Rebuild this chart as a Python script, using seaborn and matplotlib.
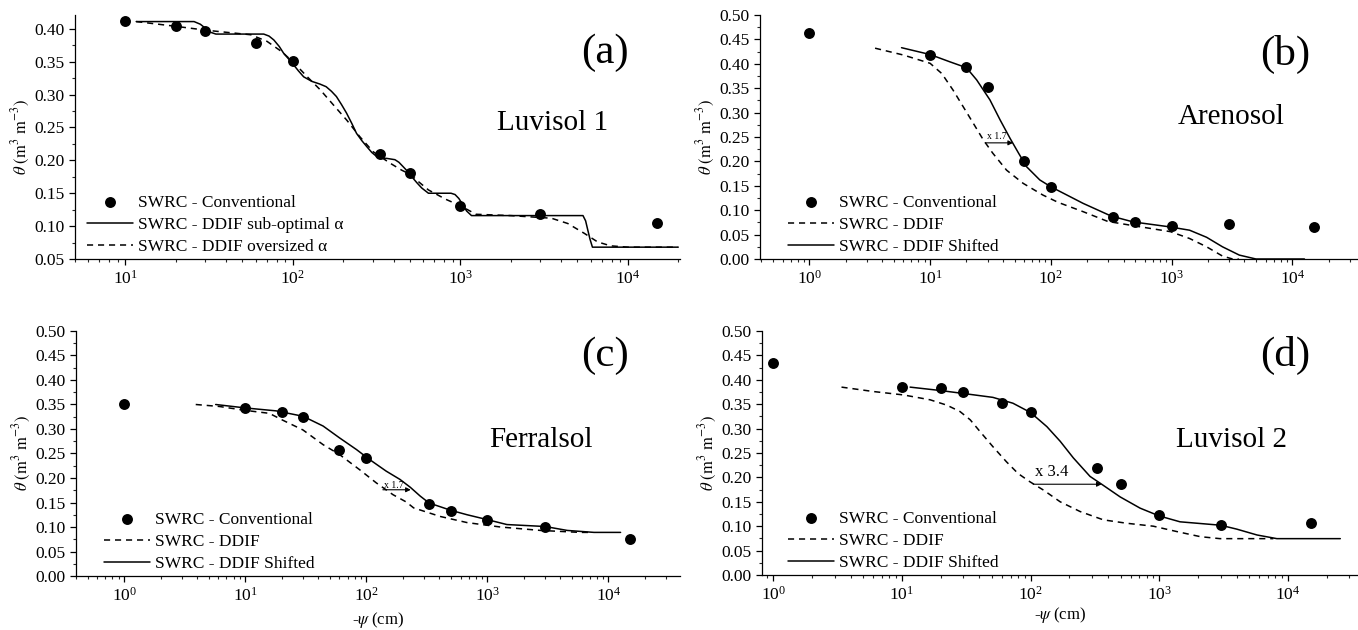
import matplotlib
matplotlib.use("Agg")
import matplotlib.pyplot as plt
from matplotlib.ticker import LogLocator, MultipleLocator, FormatStrFormatter, NullFormatter
import pandas as pd
import seaborn as sns

# ---------------- Luvisol 1 ----------------
a_psi = [10, 20, 30, 60, 100, 330, 500, 1000, 3000, 15000]
a_theta = [0.412, 0.405, 0.397, 0.378, 0.351, 0.210, 0.181, 0.131, 0.118, 0.105]

a_sub_psi = [11.6, 25.7, 28, 30, 32, 34.7, 67, 72, 77, 83, 88, 99, 108, 116, 130, 145,
             158, 170, 182, 195, 209, 225, 240, 258, 276, 296, 316, 340, 363, 407, 430,
             457, 485, 513, 550, 588, 645, 880, 930, 980, 1020, 1090, 1166, 5400, 5600,
             5770, 5950, 6150, 20000]
a_sub_theta = [0.411, 0.411, 0.407, 0.401, 0.395, 0.392, 0.392, 0.389, 0.383, 0.373, 0.363,
               0.348, 0.336, 0.327, 0.320, 0.316, 0.312, 0.305, 0.297, 0.285, 0.272, 0.256,
               0.241, 0.230, 0.221, 0.212, 0.206, 0.203, 0.203, 0.201, 0.197, 0.190, 0.183,
               0.175, 0.166, 0.158, 0.150, 0.150, 0.148, 0.142, 0.135, 0.123, 0.116, 0.116,
               0.108, 0.094, 0.080, 0.068, 0.068]

a_over_psi = [11.6, 19.7, 30, 39, 56, 70, 85, 100, 122, 146, 175, 210, 251, 302, 379, 447,
              500, 560, 645, 815, 1000, 1240, 2000, 3500, 4380, 5500, 6600, 7900, 10000, 20000]
a_over_theta = [0.411, 0.404, 0.398, 0.395, 0.391, 0.381, 0.366, 0.350, 0.327, 0.307, 0.284,
                0.261, 0.236, 0.213, 0.196, 0.185, 0.179, 0.168, 0.155, 0.141, 0.131, 0.118,
                0.116, 0.112, 0.104, 0.089, 0.076, 0.070, 0.068, 0.068]

# ---------------- Arenosol ----------------
b_psi = [1, 10, 20, 30, 60, 100, 330, 500, 1000, 3000, 15000]
b_theta = [0.464, 0.418, 0.393, 0.353, 0.200, 0.148, 0.087, 0.075, 0.068, 0.072, 0.066]

b_ddif_psi = [3.5, 6, 10, 12.5, 15.5, 18.8, 22.8, 27.6, 33, 43, 59, 86, 115, 185, 296, 490,
              980, 1410, 1950, 2640, 3200, 3600]
b_ddif_theta = [0.432, 0.418, 0.401, 0.380, 0.346, 0.312, 0.278, 0.244, 0.217, 0.182, 0.155,
                0.131, 0.116, 0.097, 0.077, 0.068, 0.056, 0.042, 0.025, 0.006, 0.0, 0.0]

b_shift_psi = [5.8, 10, 14.6, 20, 24.3, 31.3, 38, 46, 54, 63, 81, 100, 185, 316, 480, 955,
               1410, 1950, 2640, 3640, 5000, 12600]
b_shift_theta = [0.433, 0.419, 0.404, 0.392, 0.367, 0.326, 0.285, 0.247, 0.217, 0.189, 0.162,
                 0.148, 0.114, 0.088, 0.076, 0.066, 0.059, 0.0445, 0.025, 0.008, 0.0, 0.0]

# ---------------- Ferralsol ----------------
c_psi = [1, 10, 20, 30, 60, 100, 330, 500, 1000, 3000, 15000]
c_theta = [0.352, 0.342, 0.335, 0.325, 0.257, 0.241, 0.147, 0.133, 0.115, 0.101, 0.076]

c_ddif_psi = [3.9, 6.1, 10, 15.8, 20.4, 30, 44, 60, 88, 121, 166, 214, 246, 408, 680, 1280,
              2750, 5840, 7000]
c_ddif_theta = [0.350, 0.346, 0.338, 0.332, 0.318, 0.298, 0.268, 0.248, 0.217, 0.190, 0.166,
                0.151, 0.139, 0.1215, 0.109, 0.100, 0.093, 0.089, 0.089]

c_shift_psi = [5.7, 10, 18, 30, 44, 60, 83, 106, 146, 190, 231, 279, 330, 500, 680, 1000,
               1450, 3000, 4570, 7600, 12600]
c_shift_theta = [0.350, 0.343, 0.337, 0.326, 0.306, 0.282, 0.258, 0.238, 0.214, 0.197, 0.181,
                 0.163, 0.149, 0.134, 0.125, 0.115, 0.105, 0.101, 0.093, 0.089, 0.089]

# ---------------- Luvisol 2 ----------------
d_psi = [1, 10, 20, 30, 60, 100, 330, 500, 1000, 3000, 15000]
d_theta = [0.434, 0.386, 0.383, 0.376, 0.352, 0.333, 0.219, 0.186, 0.122, 0.103, 0.106]

d_ddif_psi = [3.4, 6, 10.3, 16.6, 22.4, 28.3, 34, 40.5, 51, 65, 80, 99, 126, 170, 243, 368,
              560, 900, 1370, 2090, 2960, 7700]
d_ddif_theta = [0.385, 0.376, 0.369, 0.359, 0.348, 0.335, 0.318, 0.294, 0.263, 0.232, 0.208,
                0.191, 0.174, 0.150, 0.130, 0.113, 0.106, 0.100, 0.089, 0.0785, 0.0745, 0.0745]

d_shift_psi = [11.6, 20, 30, 51, 73, 100, 134, 170, 215, 290, 357, 497, 710, 1000, 1450, 3000,
               4000, 5750, 8200, 25500]
d_shift_theta = [0.385, 0.378, 0.372, 0.364, 0.352, 0.333, 0.304, 0.274, 0.240, 0.202, 0.186,
                 0.160, 0.137, 0.121, 0.109, 0.102, 0.094, 0.082, 0.0745, 0.0745]

# shift factors between DDIF and shifted DDIF curves: (start psi, theta, factor)
b_shift = (28.6, 0.238, 1.7)
c_shift = (137, 0.176, 1.7)
d_shift = (105, 0.186, 3.4)

LBL_CONV = "SWRC - Conventional"
LBL_DDIF = "SWRC - DDIF"
LBL_SHIFT = "SWRC - DDIF Shifted"
LBL_SUB = "SWRC - DDIF sub-optimal \u03b1"
LBL_OVER = "SWRC - DDIF oversized \u03b1"

sns.set_theme(style="ticks")
plt.rcParams["font.family"] = ["Liberation Serif", "DejaVu Serif"]
plt.rcParams["mathtext.fontset"] = "stix"
plt.rcParams["axes.linewidth"] = 0.9
plt.rcParams["axes.edgecolor"] = "black"
plt.rcParams["text.color"] = "black"
plt.rcParams["axes.labelcolor"] = "black"

fig = plt.figure(figsize=(13.58, 6.30), dpi=100)
ax_a = fig.add_axes([0.05523, 0.58889, 0.44550, 0.38730])
ax_b = fig.add_axes([0.55965, 0.58889, 0.44035, 0.38730])
ax_c = fig.add_axes([0.05596, 0.08571, 0.44477, 0.38890])
ax_d = fig.add_axes([0.56112, 0.08730, 0.43888, 0.38730])

DASH = (0, (4.0, 3.2))


def draw_curve(ax, x, y, label, dashed):
    df = pd.DataFrame({"psi": x, "theta": y})
    sns.lineplot(data=df, x="psi", y="theta", ax=ax, color="black", linewidth=1.1,
                 sort=False, estimator=None, label=label)
    if dashed:
        ax.lines[-1].set_linestyle(DASH)


def draw_points(ax, x, y):
    df = pd.DataFrame({"psi": x, "theta": y})
    sns.scatterplot(data=df, x="psi", y="theta", ax=ax, color="black", s=62,
                    linewidth=0, label=LBL_CONV, zorder=3)


def style_axes(ax, xlim, ylim, ymajor_lo):
    ax.set_xscale("log")
    ax.set_xlim(*xlim)
    ax.set_ylim(*ylim)
    ax.xaxis.set_major_locator(LogLocator(base=10, numticks=12))
    ax.xaxis.set_minor_locator(LogLocator(base=10, subs=range(2, 10), numticks=12))
    ax.xaxis.set_minor_formatter(NullFormatter())
    ax.yaxis.set_minor_locator(MultipleLocator(0.025))
    ax.set_yticks([v / 100 for v in range(int(round(ymajor_lo * 100)), int(round(ylim[1] * 100)) + 1, 5)])
    ax.yaxis.set_major_formatter(FormatStrFormatter("%.2f"))
    ax.tick_params(which="major", direction="out", length=4.5, width=0.9, labelsize=12.5,
                   colors="black", pad=3)
    ax.tick_params(which="minor", direction="out", length=2.5, width=0.8)
    sns.despine(ax=ax)
    ax.set_ylabel(r"$\theta\ (\mathrm{m}^{3}\ \mathrm{m}^{-3})$", fontsize=12, labelpad=2)
    ax.set_xlabel("")


def finish_legend(ax, order, anchor):
    handles, labels = ax.get_legend_handles_labels()
    lookup = dict(zip(labels, handles))
    ax.legend([lookup[k] for k in order], order, loc="lower left", bbox_to_anchor=anchor,
              frameon=False, fontsize=12.5, handlelength=2.65, handletextpad=0.3,
              labelspacing=0.36, borderpad=0.0, borderaxespad=0.0)


def shift_arrow(ax, shift, fs, dy):
    x0, y0, factor = shift
    ax.annotate("", xy=(x0 * factor, y0), xytext=(x0, y0),
                arrowprops=dict(arrowstyle="-|>", color="black", lw=0.8,
                                mutation_scale=7, shrinkA=0, shrinkB=0))
    ax.text(x0 * 1.03, y0 + dy, "x %g" % factor, fontsize=fs, ha="left", va="center")


# (a) Luvisol 1
draw_points(ax_a, a_psi, a_theta)
draw_curve(ax_a, a_sub_psi, a_sub_theta, LBL_SUB, False)
draw_curve(ax_a, a_over_psi, a_over_theta, LBL_OVER, True)
style_axes(ax_a, (5, 2.05e4), (0.05, 0.421), 0.05)
finish_legend(ax_a, [LBL_CONV, LBL_SUB, LBL_OVER], (0.02, 0.015))
ax_a.text(0.876, 0.845, "(a)", transform=ax_a.transAxes, fontsize=31, ha="center", va="center")
ax_a.text(0.79, 0.557, "Luvisol 1", transform=ax_a.transAxes, fontsize=21, ha="center", va="center")

# (b) Arenosol
draw_points(ax_b, b_psi, b_theta)
draw_curve(ax_b, b_ddif_psi, b_ddif_theta, LBL_DDIF, True)
draw_curve(ax_b, b_shift_psi, b_shift_theta, LBL_SHIFT, False)
style_axes(ax_b, (0.39, 3.5e4), (0.0, 0.5), 0.0)
finish_legend(ax_b, [LBL_CONV, LBL_DDIF, LBL_SHIFT], (0.047, 0.015))
shift_arrow(ax_b, b_shift, 7, 0.013)
ax_b.text(0.878, 0.84, "(b)", transform=ax_b.transAxes, fontsize=31, ha="center", va="center")
ax_b.text(0.788, 0.58, "Arenosol", transform=ax_b.transAxes, fontsize=21, ha="center", va="center")

# (c) Ferralsol
draw_points(ax_c, c_psi, c_theta)
draw_curve(ax_c, c_ddif_psi, c_ddif_theta, LBL_DDIF, True)
draw_curve(ax_c, c_shift_psi, c_shift_theta, LBL_SHIFT, False)
style_axes(ax_c, (0.40, 3.9e4), (0.0, 0.5), 0.0)
finish_legend(ax_c, [LBL_CONV, LBL_DDIF, LBL_SHIFT], (0.046, 0.015))
shift_arrow(ax_c, c_shift, 7, 0.008)
ax_c.text(0.876, 0.90, "(c)", transform=ax_c.transAxes, fontsize=31, ha="center", va="center")
ax_c.text(0.77, 0.555, "Ferralsol", transform=ax_c.transAxes, fontsize=21, ha="center", va="center")
ax_c.set_xlabel(r"-$\psi$ (cm)", fontsize=12, labelpad=4)

# (d) Luvisol 2
draw_points(ax_d, d_psi, d_theta)
draw_curve(ax_d, d_ddif_psi, d_ddif_theta, LBL_DDIF, True)
draw_curve(ax_d, d_shift_psi, d_shift_theta, LBL_SHIFT, False)
style_axes(ax_d, (0.82, 3.5e4), (0.0, 0.5), 0.0)
finish_legend(ax_d, [LBL_CONV, LBL_DDIF, LBL_SHIFT], (0.044, 0.015))
shift_arrow(ax_d, d_shift, 12, 0.026)
ax_d.text(0.878, 0.90, "(d)", transform=ax_d.transAxes, fontsize=31, ha="center", va="center")
ax_d.text(0.787, 0.555, "Luvisol 2", transform=ax_d.transAxes, fontsize=21, ha="center", va="center")
ax_d.set_xlabel(r"-$\psi$ (cm)", fontsize=12, labelpad=1)

fig.savefig("out.png", dpi=100, facecolor="white")
